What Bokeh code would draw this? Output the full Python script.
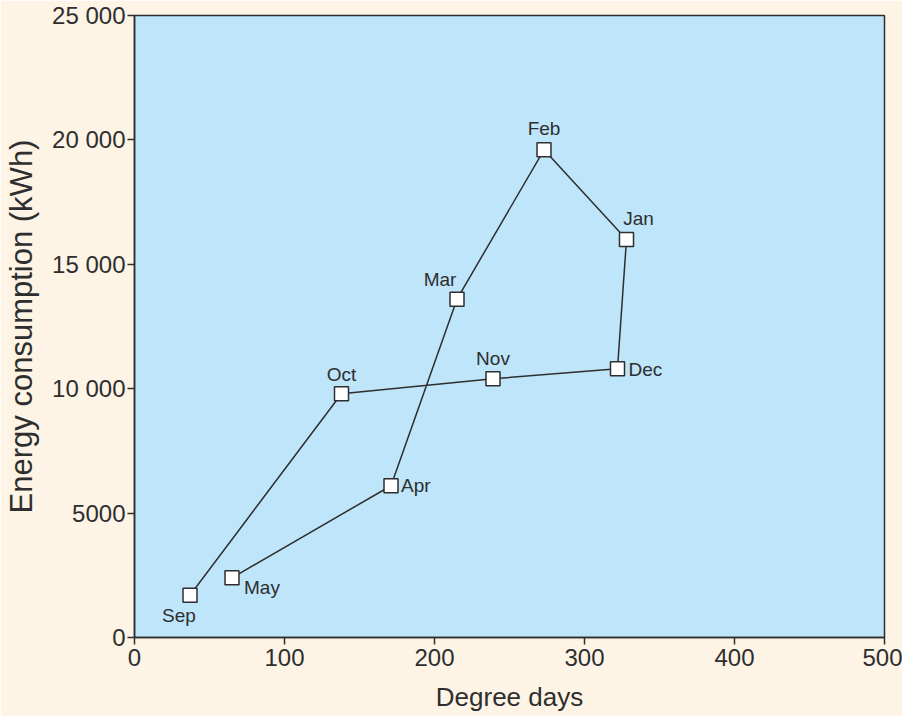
from bokeh.plotting import figure
from bokeh.models import ColumnDataSource, FixedTicker, Range1d
from bokeh.core.properties import value
from bokeh.embed import file_html
from bokeh.resources import INLINE

# ---- data ----
months = ["Sep", "Oct", "Nov", "Dec", "Jan", "Feb", "Mar", "Apr", "May"]
degree_days = [37, 138, 239, 322, 328, 273, 215, 171, 65]
energy_kwh = [1700, 9800, 10400, 10800, 16000, 19600, 13600, 6100, 2400]
x_ticks = [0, 100, 200, 300, 400, 500]
y_ticks = [0, 5000, 10000, 15000, 20000, 25000]
y_tick_labels = ["0", "5000", "10 000", "15 000", "20 000", "25 000"]

# ---- styling ----
FONT = "Liberation Sans"
BG = "#fdf4e6"
PLOT_BG = "#bee5fa"
INK = "#2e2e2e"

# label placement per point (style only): (dx, dy, align, baseline)
placement = {
    "Sep": (-11, 10, "center", "top"),
    "Oct": (0, -9, "center", "bottom"),
    "Nov": (0, -10, "center", "bottom"),
    "Dec": (11, 1, "left", "middle"),
    "Jan": (12, -10, "center", "bottom"),
    "Feb": (0, -11, "center", "bottom"),
    "Mar": (-17, -9, "center", "bottom"),
    "Apr": (10, 0, "left", "middle"),
    "May": (12, 10, "left", "middle"),
}

src = ColumnDataSource(dict(
    x=degree_days, y=energy_kwh, m=months,
    dx=[placement[m][0] for m in months],
    dy=[placement[m][1] for m in months],
    al=[placement[m][2] for m in months],
    bl=[placement[m][3] for m in months],
))

p = figure(width=902, height=716, output_backend="svg", toolbar_location=None,
           x_range=Range1d(0, 500), y_range=Range1d(0, 25000),
           min_border_left=134, min_border_right=18, min_border_top=15, min_border_bottom=79)
p.background_fill_color = PLOT_BG
p.border_fill_color = BG
p.outline_line_color = INK
p.outline_line_width = 1.5
p.grid.visible = False

p.line("x", "y", source=src, line_color=INK, line_width=1.5)
p.scatter("x", "y", source=src, marker="square", size=14, fill_color="white",
          line_color=INK, line_width=1.5)
p.text("x", "y", text="m", source=src, x_offset="dx", y_offset="dy",
       text_align="al", text_baseline="bl", text_font=value(FONT),
       text_font_size="19px", text_color=INK)

for ax in (p.xaxis[0], p.yaxis[0]):
    ax.axis_line_color = INK
    ax.axis_line_width = 1.5
    ax.major_tick_line_color = INK
    ax.major_tick_line_width = 1.5
    ax.major_tick_out = 7
    ax.major_tick_in = 0
    ax.minor_tick_line_color = None
    ax.major_label_text_font = FONT
    ax.major_label_text_font_size = "24px"
    ax.major_label_text_color = INK
    ax.axis_label_text_font = FONT
    ax.axis_label_text_font_style = "normal"
    ax.axis_label_text_color = INK

p.xaxis.ticker = FixedTicker(ticks=x_ticks)
p.yaxis.ticker = FixedTicker(ticks=y_ticks)
p.yaxis.major_label_overrides = {t: l for t, l in zip(y_ticks, y_tick_labels)}
p.xaxis.axis_label = "Degree days"
p.yaxis.axis_label = "Energy consumption (kWh)"
p.xaxis.axis_label_text_font_size = "26px"
p.yaxis.axis_label_text_font_size = "31px"
p.xaxis.major_label_standoff = 4
p.yaxis.major_label_standoff = 2
p.xaxis.axis_label_standoff = 13
p.yaxis.axis_label_standoff = 10

html = file_html(p, INLINE)
html = html.replace("<body>", '<body style="background:%s; overflow:hidden">' % BG, 1)
open("out.html", "w").write(html)
